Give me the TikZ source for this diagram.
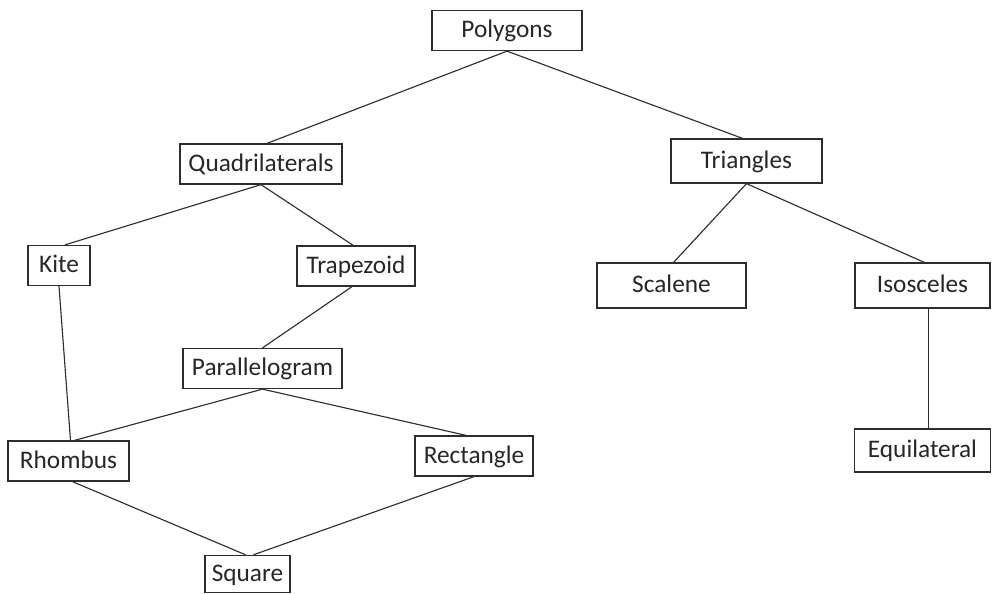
\documentclass[tikz,border=0pt]{standalone}
\usepackage{fontspec}
\setmainfont{Carlito}
\usepackage{tikz}
\usetikzlibrary{positioning}
\definecolor{inkgray}{RGB}{45,45,45}

\begin{document}
\begin{tikzpicture}[
  x=0.025cm, y=-0.025cm,
  box/.style={rectangle, draw=inkgray, line width=0.9pt, text=black!85,
    font=\fontsize{18}{20}\selectfont, minimum height=1.0cm,
    text height=14pt, text depth=4pt, inner xsep=0pt},
  link/.style={draw=inkgray, line width=0.8pt}
]
  \useasboundingbox (0,0) rectangle (992,593);

  % top level
  \node[box, minimum width=3.75cm] (polygons) at (507,30.5) {Polygons};
  \node[box, minimum width=4.05cm] (quad)     at (261,164)  {Quadrilaterals};
  \node[box, minimum width=3.78cm, minimum height=1.1cm] (tri) at (746.5,161) {Triangles};

  % quadrilaterals
  \node[box, minimum width=1.55cm] (kite)   at (59,265.5)  {Kite};
  \node[box, minimum width=2.95cm] (trap)   at (356,266)   {Trapezoid};
  \node[box, minimum width=3.98cm] (para)   at (262.5,368.5) {Parallelogram};
  \node[box, minimum width=3.03cm] (rhomb)  at (68.5,461)  {Rhombus};
  \node[box, minimum width=2.95cm] (rect)   at (474,456)   {Rectangle};
  \node[box, minimum width=2.13cm, minimum height=0.93cm] (square) at (247.5,574) {Square};

  % triangles
  \node[box, minimum width=3.73cm, minimum height=1.12cm] (scal) at (671.5,285.5) {Scalene};
  \node[box, minimum width=3.38cm, minimum height=1.12cm] (isos) at (922.5,285.5) {Isosceles};
  \node[box, minimum width=3.4cm, minimum height=1.08cm]  (equi) at (922.5,450.5) {Equilateral};

  \draw[link] (polygons.south) -- ([xshift=0.15cm]quad.north);
  \draw[link] (polygons.south) -- ([xshift=-0.1cm]tri.north);
  \draw[link] (quad.south) -- ([xshift=0.15cm]kite.north);
  \draw[link] (quad.south) -- ([xshift=-0.07cm]trap.north);
  \draw[link] ([xshift=-0.1cm]trap.south) -- (para.north);
  \draw[link] (kite.south) -- ([xshift=0.05cm]rhomb.north);
  \draw[link] (para.south) -- ([xshift=0.15cm]rhomb.north);
  \draw[link] (para.south) -- ([xshift=-0.2cm]rect.north);
  \draw[link] ([xshift=0.1cm]rhomb.south) -- ([xshift=-0.05cm]square.north);
  \draw[link] (rect.south) -- ([xshift=0.15cm]square.north);
  \draw[link] (tri.south) -- ([xshift=0.05cm]scal.north);
  \draw[link] (tri.south) -- ([xshift=0.05cm]isos.north);
  \draw[link] ([xshift=0.14cm]isos.south) -- ([xshift=0.14cm]equi.north);
\end{tikzpicture}
\end{document}
